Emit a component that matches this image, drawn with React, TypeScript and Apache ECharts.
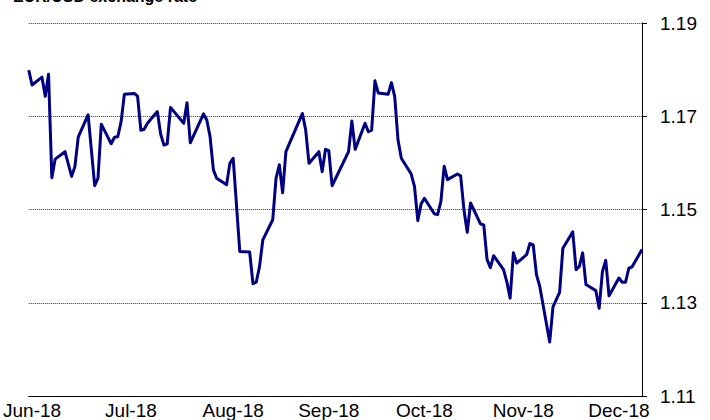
import React, { useEffect, useRef } from "react";
import * as echarts from "echarts";

// Trading-day turning points of EUR/USD
const pointDates: string[] = [
  "2018-05-31", "2018-06-01", "2018-06-04", "2018-06-05", "2018-06-06", "2018-06-07", "2018-06-08",
  "2018-06-11", "2018-06-13", "2018-06-14", "2018-06-15", "2018-06-18", "2018-06-20", "2018-06-21",
  "2018-06-22", "2018-06-25", "2018-06-26", "2018-06-27", "2018-06-28", "2018-06-29", "2018-07-02",
  "2018-07-03", "2018-07-04", "2018-07-05", "2018-07-06", "2018-07-09", "2018-07-10", "2018-07-11",
  "2018-07-12", "2018-07-13", "2018-07-17", "2018-07-18", "2018-07-19", "2018-07-23", "2018-07-24",
  "2018-07-25", "2018-07-26", "2018-07-27", "2018-07-30", "2018-07-31", "2018-08-01", "2018-08-03",
  "2018-08-06", "2018-08-07", "2018-08-08", "2018-08-09", "2018-08-10", "2018-08-13", "2018-08-14",
  "2018-08-15", "2018-08-16", "2018-08-17", "2018-08-22", "2018-08-23", "2018-08-24", "2018-08-27",
  "2018-08-28", "2018-08-29", "2018-08-30", "2018-08-31", "2018-09-05", "2018-09-06", "2018-09-07",
  "2018-09-10", "2018-09-11", "2018-09-12", "2018-09-13", "2018-09-14", "2018-09-17", "2018-09-18",
  "2018-09-19", "2018-09-20", "2018-09-21", "2018-09-24", "2018-09-25", "2018-09-26", "2018-09-27",
  "2018-09-28", "2018-10-01", "2018-10-02", "2018-10-03", "2018-10-04", "2018-10-05", "2018-10-08",
  "2018-10-09", "2018-10-10", "2018-10-11", "2018-10-12", "2018-10-15", "2018-10-16", "2018-10-17",
  "2018-10-18", "2018-10-19", "2018-10-22", "2018-10-23", "2018-10-24", "2018-10-25", "2018-10-26",
  "2018-10-29", "2018-10-30", "2018-10-31", "2018-11-01", "2018-11-02", "2018-11-05", "2018-11-06",
  "2018-11-08", "2018-11-09", "2018-11-12", "2018-11-13", "2018-11-14", "2018-11-15", "2018-11-16",
  "2018-11-19", "2018-11-20", "2018-11-21", "2018-11-22", "2018-11-23", "2018-11-26", "2018-11-27",
  "2018-11-28", "2018-11-29", "2018-11-30", "2018-12-03",
];

const rates: number[] = [
  1.1799, 1.1767, 1.1784, 1.1743, 1.179, 1.1568, 1.1608,
  1.1624, 1.1571, 1.1592, 1.1655, 1.1703, 1.1551, 1.1567,
  1.1683, 1.1641, 1.1655, 1.1656, 1.1688, 1.1747, 1.1749,
  1.1743, 1.167, 1.1672, 1.1685, 1.171, 1.1662, 1.1638,
  1.1641, 1.1719, 1.1685, 1.1729, 1.1643, 1.1705, 1.1692,
  1.1656, 1.1585, 1.1567, 1.1553, 1.1599, 1.161, 1.141,
  1.1409, 1.1341, 1.1344, 1.1378, 1.1435, 1.1478, 1.1567,
  1.1596, 1.1536, 1.1624, 1.1706, 1.167, 1.1599, 1.1624,
  1.1581, 1.1629, 1.1626, 1.1551, 1.1624, 1.169, 1.1629,
  1.1685, 1.1667, 1.167, 1.1776, 1.175, 1.1747, 1.1772,
  1.1742, 1.1649, 1.161, 1.1576, 1.1549, 1.1476, 1.1512,
  1.1524, 1.1491, 1.1489, 1.1517, 1.1593, 1.1564, 1.1576,
  1.1572, 1.1499, 1.1451, 1.1514, 1.1469, 1.1467, 1.1393,
  1.1375, 1.1401, 1.1371, 1.1345, 1.131, 1.1407, 1.1385,
  1.1403, 1.1427, 1.1424, 1.136, 1.1335, 1.1216, 1.1291,
  1.1322, 1.1417, 1.1452, 1.1371, 1.1378, 1.1407, 1.1339,
  1.1326, 1.1288, 1.1367, 1.1391, 1.1315, 1.1353, 1.1344,
  1.1344, 1.1374, 1.1377, 1.1414,
];

// Date-axis label positions and texts
const tickDates: string[] = [
  "2018-06-01", "2018-07-01", "2018-08-01", "2018-08-30", "2018-09-28", "2018-10-28", "2018-11-26",
];
const tickLabels: string[] = ["Jun-18", "Jul-18", "Aug-18", "Sep-18", "Oct-18", "Nov-18", "Dec-18"];

const axisStart = "2018-05-31";
const axisEnd = "2018-12-03";
const yMin = 1.11;
const yMax = 1.19;
const yStep = 0.02;

const titleText = "EUR/USD exchange rate";

function buildDays(start: string, end: string): string[] {
  const out: string[] = [];
  let t = Date.parse(start + "T00:00:00Z");
  const e = Date.parse(end + "T00:00:00Z");
  while (t <= e) {
    out.push(new Date(t).toISOString().slice(0, 10));
    t += 86400000;
  }
  return out;
}

const FONT = '"Liberation Sans", Arial, sans-serif';

export default function App() {
  const ref = useRef<HTMLDivElement>(null);

  useEffect(() => {
    if (!ref.current) return;
    const chart = echarts.init(ref.current, undefined, { renderer: "svg" });
    const days = buildDays(axisStart, axisEnd);
    const seriesData = days.map((d) => {
      const k = pointDates.indexOf(d);
      return k >= 0 ? rates[k] : null;
    });

    chart.setOption({
      animation: false,
      backgroundColor: "#ffffff",
      textStyle: { fontFamily: FONT },
      grid: { left: 27, right: 68, top: 23, bottom: 23, containLabel: false },
      graphic: [
        {
          type: "text",
          left: 13,
          top: -12,
          style: {
            text: titleText,
            fill: "#000",
            font: `bold 16px ${FONT}`,
          },
        },
      ],
      xAxis: {
        type: "category",
        data: days,
        boundaryGap: false,
        axisLine: { show: true, lineStyle: { color: "#000", width: 1 } },
        axisTick: { show: false },
        splitLine: { show: false },
        axisLabel: {
          interval: (index: number, value: string) => tickDates.indexOf(value) >= 0,
          formatter: (value: string) => {
            const k = tickDates.indexOf(value);
            return k >= 0 ? tickLabels[k] : "";
          },
          color: "#000",
          fontSize: 19,
          fontFamily: FONT,
          margin: 5,
          hideOverlap: false,
        },
      },
      yAxis: {
        type: "value",
        position: "right",
        min: yMin,
        max: yMax,
        interval: yStep,
        axisLine: { show: true, lineStyle: { color: "#000", width: 1 } },
        axisTick: { show: true, length: 5, lineStyle: { color: "#000" } },
        splitLine: {
          show: true,
          lineStyle: { color: "#333", width: 1, type: [1, 1] },
        },
        axisLabel: {
          color: "#000",
          fontSize: 19,
          fontFamily: FONT,
          margin: 18,
          formatter: (v: number) => v.toFixed(2),
        },
      },
      series: [
        {
          type: "line",
          data: seriesData,
          connectNulls: true,
          showSymbol: false,
          symbol: "none",
          lineStyle: { color: "#000080", width: 3, join: "round" },
          z: 5,
        },
      ],
    });

    return () => chart.dispose();
  }, []);

  return (
    <div
      ref={ref}
      style={{ position: "fixed", left: 0, top: 0, width: 710, height: 420, background: "#fff" }}
    />
  );
}
